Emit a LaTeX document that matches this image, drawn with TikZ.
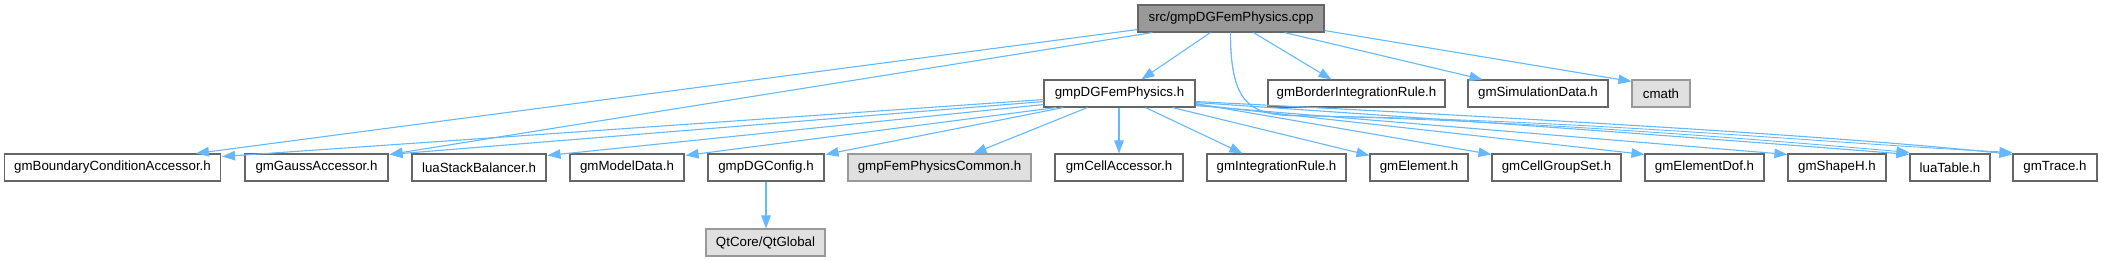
\documentclass[tikz,border=0pt]{standalone}
\usepackage{fontspec}
\setmainfont{Liberation Sans}
\usetikzlibrary{arrows.meta,calc}
\definecolor{edgeblue}{HTML}{63B8FF}
\definecolor{boxline}{HTML}{666666}
\definecolor{greyline}{HTML}{999999}
\definecolor{greyfill}{HTML}{E0E0E0}
\definecolor{curfill}{HTML}{999999}
\tikzset{
  filebox/.style={draw=boxline, fill=white, line width=1.1pt, rectangle, inner sep=0pt,
     minimum height=27pt, font=\fontsize{13.3}{16}\selectfont},
  extbox/.style={filebox, draw=greyline, fill=greyfill},
  curbox/.style={filebox, draw=boxline, fill=curfill},
  edge/.style={draw=edgeblue, line width=1.1pt, -{Triangle[length=13pt,width=9.5pt]}}
}
\begin{document}
\begin{tikzpicture}[x=1pt,y=-1pt]
\useasboundingbox (0,0) rectangle (2103,261);
% nodes
\node[curbox, minimum width=186pt] (cpp) at (1231,18.5) {src/gmpDGFemPhysics.cpp};
\node[filebox, minimum width=151pt] (h) at (1119.5,93.5) {gmpDGFemPhysics.h};
\node[filebox, minimum width=177pt] (border) at (1356.5,93.5) {gmBorderIntegrationRule.h};
\node[filebox, minimum width=140pt] (sim) at (1538,93.5) {gmSimulationData.h};
\node[extbox, minimum width=58pt] (cmath) at (1661,93.5) {cmath};
\node[filebox, minimum width=216pt] (bc) at (112.5,167.5) {gmBoundaryConditionAccessor.h};
\node[filebox, minimum width=143pt] (gauss) at (316.5,167.5) {gmGaussAccessor.h};
\node[filebox, minimum width=134pt] (lsb) at (479,167.5) {luaStackBalancer.h};
\node[filebox, minimum width=114pt] (model) at (627,167.5) {gmModelData.h};
\node[filebox, minimum width=116pt] (config) at (766,167.5) {gmpDGConfig.h};
\node[extbox, minimum width=183pt] (femcommon) at (939.5,167.5) {gmpFemPhysicsCommon.h};
\node[filebox, minimum width=128pt] (cellacc) at (1119,167.5) {gmCellAccessor.h};
\node[filebox, minimum width=139pt] (intrule) at (1276.5,167.5) {gmIntegrationRule.h};
\node[filebox, minimum width=98pt] (element) at (1419,167.5) {gmElement.h};
\node[filebox, minimum width=129pt] (cellgroup) at (1556.5,167.5) {gmCellGroupSet.h};
\node[filebox, minimum width=119pt] (elemdof) at (1704.5,167.5) {gmElementDof.h};
\node[filebox, minimum width=98pt] (shapeh) at (1837,167.5) {gmShapeH.h};
\node[filebox, minimum width=80pt] (luatable) at (1950,167.5) {luaTable.h};
\node[filebox, minimum width=84pt] (trace) at (2055,167.5) {gmTrace.h};
\node[extbox, minimum width=119pt] (qt) at (765.5,242.5) {QtCore/QtGlobal};
% edges from cpp
\draw[edge] ($(cpp.south west)+(0,-3)$) -- ($(bc.north west)+(192,0)$);
\draw[edge] ($(cpp.south west)+(15,0)$) -- ($(gauss.north east)+(1,1)$);
\draw[edge] ($(cpp.south west)+(73,0)$) -- ($(h.north west)+(98,0)$);
\draw[edge] ($(cpp.south west)+(116,0)$) -- ($(border.north west)+(64,0)$);
\draw[edge] ($(cpp.south west)+(147,0)$) -- ($(sim.north west)+(15,0)$);
\draw[edge] ($(cpp.south east)+(0,-2)$) -- ($(cmath.north west)+(0,2)$);
\draw[edge, line width=0.9pt] ($(cpp.south west)+(93,0)$) .. controls +(0,70) and +(-40,-2) .. ++(59,83)
   .. controls +(220,4) and +(-160,-14) .. ($(luatable.north west)+(0,-1)$);
\draw[edge, line width=0.9pt] ($(cpp.south west)+(93,0)$) .. controls +(0,70) and +(-40,-2) .. ++(59,83)
   .. controls +(300,4) and +(-200,-10) .. ($(trace.north west)+(0,-1)$);
% edges from gmpDGFemPhysics.h
\draw[edge] ($(h.south west)+(0,-8)$) -- ($(bc.south east)+(1,-25)$);
\draw[edge] ($(h.south west)+(0,-6)$) -- ($(gauss.north east)+(1,1)$);
\draw[edge] ($(h.south west)+(0,-3)$) -- ($(lsb.north east)+(1,2)$);
\draw[edge] ($(h.south west)+(13,0)$) -- ($(model.north east)+(1,2)$);
\draw[edge] ($(h.south west)+(20,0)$) -- ($(config.north east)+(1,1)$);
\draw[edge] ($(h.south west)+(44,0)$) -- ($(femcommon.north west)+(126,0)$);
\draw[edge] (cellacc.north |- h.south) -- (cellacc.north);
\draw[edge] ($(h.south west)+(102,0)$) -- ($(intrule.north west)+(36,0)$);
\draw[edge] ($(h.south west)+(129,0)$) -- ($(element.north west)+(0,2)$);
\draw[edge] ($(h.south east)+(0,-4)$) -- ($(cellgroup.north west)+(0,1)$);
\draw[edge] ($(h.south east)+(0,-3)$) -- ($(elemdof.north west)+(0,1)$);
\draw[edge] ($(h.south east)+(0,-2)$) -- ($(shapeh.north west)+(0,1)$);
\draw[edge] ($(h.south east)+(0,-5)$) .. controls +(300,20) and +(-150,-12) .. ($(luatable.north west)+(0,1)$);
\draw[edge] ($(h.south east)+(0,-6)$) .. controls +(400,20) and +(-150,-16) .. ($(trace.north west)+(0,1)$);
% edge from gmpDGConfig.h
\draw[edge] (config.south) -- (qt.north -| config.south);
\end{tikzpicture}
\end{document}
